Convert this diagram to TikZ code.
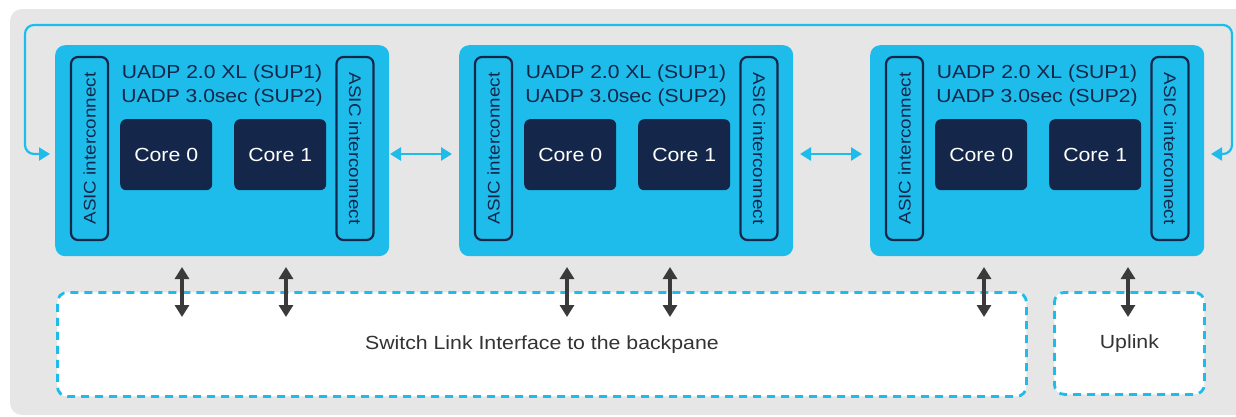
\documentclass[tikz,border=0pt]{standalone}
\usepackage{fontspec}
\setmainfont{Liberation Sans}[FakeStretch=1.12]
\usetikzlibrary{arrows.meta,calc}
\definecolor{chipblue}{HTML}{1DBCEB}
\definecolor{navy}{HTML}{14264A}
\definecolor{bggrey}{HTML}{E6E6E6}
\definecolor{darkarr}{HTML}{3A3A3A}
\definecolor{txtgrey}{HTML}{333333}
\begin{document}
\begin{tikzpicture}[x=1pt,y=-1pt,
  chipbox/.style={fill=chipblue, rounded corners=10pt, minimum width=334pt, minimum height=211pt, anchor=north west, inner sep=0pt},
  asicbox/.style={draw=navy, line width=2.2pt, rounded corners=7pt, minimum width=183pt, minimum height=37pt, inner sep=0pt, text=navy, font=\fontsize{16.8}{19}\selectfont},
  corebox/.style={fill=navy, rounded corners=6pt, minimum width=92pt, minimum height=71pt, anchor=north west, inner sep=0pt, text=white, font=\fontsize{19}{22}\selectfont},
  titletext/.style={text=navy, font=\fontsize{18.8}{24}\selectfont, align=center, inner sep=0pt},
  dashbox/.style={draw=chipblue, fill=white, line width=2.8pt, dash pattern=on 8pt off 6pt, rounded corners=10pt, inner sep=0pt, text=txtgrey, font=\fontsize{19}{22}\selectfont},
  bluearrow/.style={draw=chipblue, line width=2.6pt, {Triangle[length=11pt,width=13pt]}-{Triangle[length=11pt,width=13pt]}},
  darkarrow/.style={draw=darkarr, line width=3.5pt, {Triangle[length=12pt,width=14pt]}-{Triangle[length=12pt,width=14pt]}}
]
\useasboundingbox (0,0) rectangle (1236,416);
% background
\fill[bggrey, rounded corners=12pt] (10,9) rectangle (1260,415);
\fill[bggrey] (1220,9) rectangle (1236,415);

% chips
\foreach \i/\x in {1/55,2/459,3/870}{
  \node[chipbox] (chip\i) at (\x,45) {};
  \node[asicbox, rotate=90] (asicL\i) at (\x+34.5,148.5) {ASIC interconnect};
  \node[asicbox, rotate=-90] (asicR\i) at (\x+300,148.5) {ASIC interconnect};
  \node[titletext] (title\i) at (\x+167,86) {UADP 2.0 XL (SUP1)\\UADP 3.0sec (SUP2)};
  \node[corebox] (coreA\i) at (\x+65,119) {Core 0};
  \node[corebox] (coreB\i) at (\x+179,119) {Core 1};
}

% dashed boxes
\node[dashbox, minimum width=969pt, minimum height=104pt, anchor=north west] (sli) at (56,291) {Switch Link Interface to the backpane};
\node[dashbox, minimum width=150pt, minimum height=102pt, anchor=north west] (uplink) at (1053,291) {Uplink};

% inter-chip arrows
\coordinate (a12s) at (390,154);
\coordinate (a12e) at (452,154);
\coordinate (a23s) at (800,154);
\coordinate (a23e) at (862,154);
\draw[bluearrow] (a12s) -- (a12e);
\draw[bluearrow] (a23s) -- (a23e);

% loop arrow
\coordinate (loopL) at (50,154);
\coordinate (loopR) at (1211,154);
\draw[bluearrow, line width=2.2pt, rounded corners=9pt] (loopR) -- (1232,154) -- (1232,25) -- (25,25) -- (25,154) -- (loopL);

% vertical arrows
\foreach \k/\vx in {1/182,2/286,3/567,4/670,5/984,6/1128}{
  \coordinate (vt\k) at (\vx,267);
  \coordinate (vb\k) at (\vx,317);
  \draw[darkarrow] (vt\k) -- (vb\k);
}
\end{tikzpicture}
\end{document}
